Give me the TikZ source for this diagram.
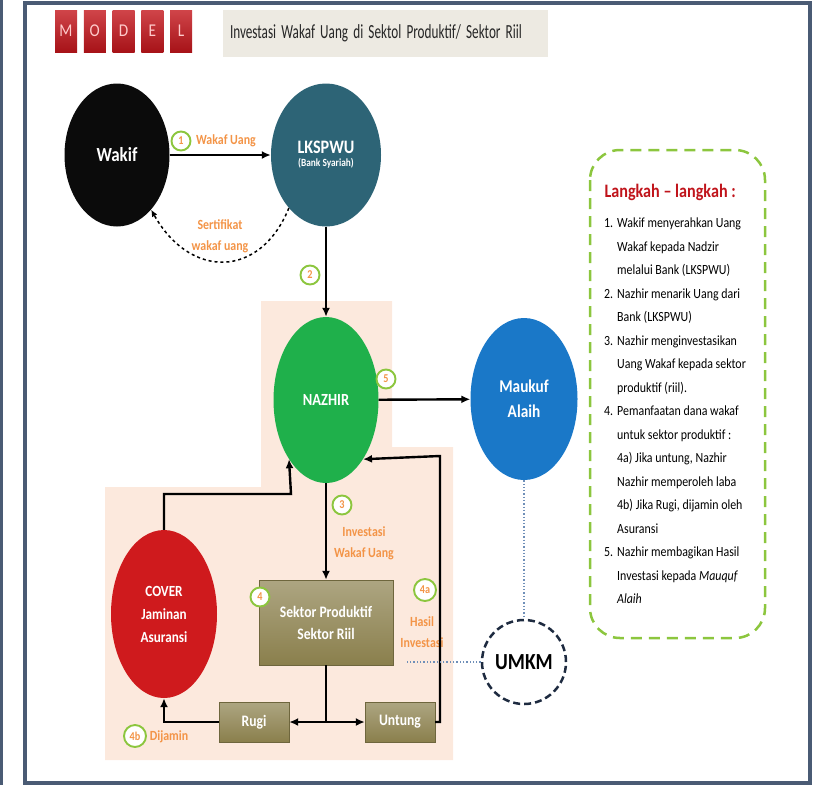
\documentclass[tikz,border=0pt]{standalone}
\usepackage{fontspec}
\setmainfont{Carlito}[FakeStretch=0.85]
\usetikzlibrary{shapes.geometric, arrows.meta}

\definecolor{framecol}{HTML}{4A5B74}
\definecolor{modelred}{HTML}{C4161C}
\definecolor{titlebg}{HTML}{EDEAE2}
\definecolor{peach}{HTML}{FCE9DD}
\definecolor{wakifcol}{HTML}{0B0B0B}
\definecolor{bankcol}{HTML}{2D6476}
\definecolor{nazhircol}{HTML}{1FB04B}
\definecolor{maukufcol}{HTML}{1A78C8}
\definecolor{covercol}{HTML}{CF1A1D}
\definecolor{olivecol}{HTML}{8A7F4C}
\definecolor{labelorange}{HTML}{F39447}
\definecolor{stepgreen}{HTML}{8CC63E}
\definecolor{headred}{HTML}{C0141B}
\definecolor{umkmcol}{HTML}{1E2B40}
\definecolor{dotblue}{HTML}{6F8FB8}

\tikzset{
  bubble/.style={ellipse, inner sep=0pt, text=white, align=center},
  blok/.style={rectangle, inner sep=0pt, top color=olivecol!70!white,
    bottom color=olivecol, draw=olivecol!80!black, text=white,
    font=\bfseries\fontsize{16}{22}\selectfont, align=center},
  stepno/.style={circle, draw=stepgreen, line width=1.9pt, fill=white,
    inner sep=0pt, minimum size=19pt, text=labelorange,
    font=\bfseries\fontsize{12}{12}\selectfont},
  oranje/.style={text=labelorange, font=\bfseries\fontsize{14}{21}\selectfont,
    align=center},
  flow/.style={line width=2.4pt, -{Latex[length=9pt, width=8pt]}},
  link/.style={line width=2.4pt}
}

\begin{document}
\begin{tikzpicture}[x=1pt, y=-1pt]
\useasboundingbox (0,0) rectangle (821,785);

% frame
\fill[framecol] (0,0) rectangle (3,785);
\draw[framecol, line width=4pt] (25,2.5) rectangle (809.5,782.5);

% header
\foreach \letter [count=\i from 0] in {M,O,D,E,L}
  \node[rectangle, minimum width=22, minimum height=42, inner sep=0pt,
    top color=modelred!80!white, bottom color=modelred!85!black,
    text=red!20!white, font=\fontsize{18}{18}\selectfont]
    (model\i) at (66+28.8*\i,31) {\letter};
\node[rectangle, fill=titlebg, text width=311, inner xsep=7pt,
  minimum height=47, align=left, font=\fontsize{20}{20}\selectfont,
  text=black!85] (titel) at (385.5,33.5)
  {\resizebox{292pt}{\height}{Investasi Wakaf Uang di Sektol Produktif/ Sektor Riil}};

% peach area
\fill[peach] (261,301) -- (392,301) -- (392,447) -- (453,447) --
  (453,760) -- (105,760) -- (105,487) -- (261,487) -- cycle;

% actors
\node[bubble, fill=wakifcol, minimum width=105, minimum height=143,
  font=\bfseries\fontsize{20}{20}\selectfont] (wakif) at (117,155) {Wakif};
\node[bubble, fill=bankcol, minimum width=110, minimum height=143]
  (bank) at (326,155)
  {{\bfseries\fontsize{19}{22}\selectfont LKSPWU}\\[1pt]
   {\bfseries\fontsize{11}{13}\selectfont (Bank Syariah)}};
\node[bubble, fill=nazhircol, minimum width=105, minimum height=166,
  font=\bfseries\fontsize{17}{17}\selectfont] (nazhir) at (326,400) {NAZHIR};
\node[bubble, fill=maukufcol, minimum width=107, minimum height=162,
  font=\bfseries\fontsize{18}{25}\selectfont] (maukuf) at (524,399)
  {Maukuf\\Alaih};
\node[bubble, fill=covercol, minimum width=106, minimum height=168,
  font=\bfseries\fontsize{15.5}{23}\selectfont] (cover) at (164,614)
  {COVER\\Jaminan\\Asuransi};
\node[circle, draw=umkmcol, dash pattern=on 7pt off 4pt, line width=2.5pt,
  minimum size=84, inner sep=0pt, fill=white,
  font=\bfseries\fontsize{23}{23}\selectfont] (umkm) at (524,662) {UMKM};

\node[blok, minimum width=134, minimum height=85] (sektor) at (326,622.5)
  {Sektor Produktif\\Sektor Riil};
\node[blok, minimum width=70, minimum height=40] (rugi) at (254,722) {Rugi};
\node[blok, minimum width=70, minimum height=40] (untung) at (400,722) {Untung};

% step labels
\node[stepno] (s1) at (181,141) {1};
\node[oranje] (l1) at (226,141) {Wakaf Uang};
\node[oranje] (sert) at (220,236) {Sertifikat\\wakaf uang};
\node[stepno] (s2) at (310,275) {2};
\node[stepno] (s3) at (342,505) {3};
\node[oranje] (l3) at (364,543) {Investasi\\Wakaf Uang};
\node[stepno] (s4) at (260,597) {4};
\node[stepno, minimum size=22pt] (s4a) at (425,590) {4a};
\node[oranje] (l4a) at (422,632) {Hasil\\Investasi};
\node[stepno, minimum size=22pt] (s4b) at (135,736) {4b};
\node[oranje] (l4b) at (169,737) {Dijamin};
\node[stepno] (s5) at (386,379) {5};

% connectors
\coordinate (split) at (326,722);
\coordinate (ret) at (440,456);
\coordinate (lift) at (291,494);
\coordinate (hasilend) at (405,662);

\draw[flow] (wakif) -- (bank);
\draw[line width=1.5pt, dashed, -{Latex[length=7pt, width=6pt]}]
  (bank.235) .. controls (260,279) and (190,279) .. (wakif.302);
\draw[flow] (bank) -- (nazhir);
\draw[flow] (nazhir) -- (maukuf);
\draw[flow] (nazhir) -- (sektor);
\draw[link] (sektor) -- (split);
\draw[flow] (split) -- (rugi);
\draw[flow] (split) -- (untung);
\draw[flow] (untung.east) -| (ret) -- (nazhir.-58);
\draw[flow] (rugi.west) -| (cover.south);
\draw[flow] (cover.north) |- (lift) -- (nazhir.238);
\draw[dotblue, dotted, line width=1.3pt] (maukuf) -- (umkm);
\draw[dotblue, dotted, line width=1.3pt] (umkm) -- (hasilend);

% steps list
\draw[stepgreen, line width=2.5pt, dash pattern=on 11pt off 7pt,
  rounded corners=30pt] (590,150) rectangle (765,638);
\node[anchor=west, text=headred, font=\bfseries\fontsize{19}{19}\selectfont]
  (kop) at (601,192) {Langkah – langkah :};
\node[anchor=north west, align=left, inner sep=0pt,
  font=\fontsize{14}{23.5}\selectfont] (langkah) at (604,218) {%
  \makebox[13pt][l]{1.}Wakif menyerahkan Uang\\
  \hspace*{13pt}Wakaf kepada Nadzir\\
  \hspace*{13pt}melalui Bank (LKSPWU)\\
  \makebox[13pt][l]{2.}Nazhir menarik Uang dari\\
  \hspace*{13pt}Bank (LKSPWU)\\
  \makebox[13pt][l]{3.}Nazhir menginvestasikan\\
  \hspace*{13pt}Uang Wakaf kepada sektor\\
  \hspace*{13pt}produktif (riil).\\
  \makebox[13pt][l]{4.}Pemanfaatan dana wakaf\\
  \hspace*{13pt}untuk sektor produktif :\\
  \hspace*{13pt}4a) Jika untung, Nazhir\\
  \hspace*{13pt}Nazhir memperoleh laba\\
  \hspace*{13pt}4b) Jika Rugi, dijamin oleh\\
  \hspace*{13pt}Asuransi\\
  \makebox[13pt][l]{5.}Nazhir membagikan Hasil\\
  \hspace*{13pt}Investasi kepada \textit{Mauquf}\\
  \hspace*{13pt}\textit{Alaih}};
\end{tikzpicture}
\end{document}
